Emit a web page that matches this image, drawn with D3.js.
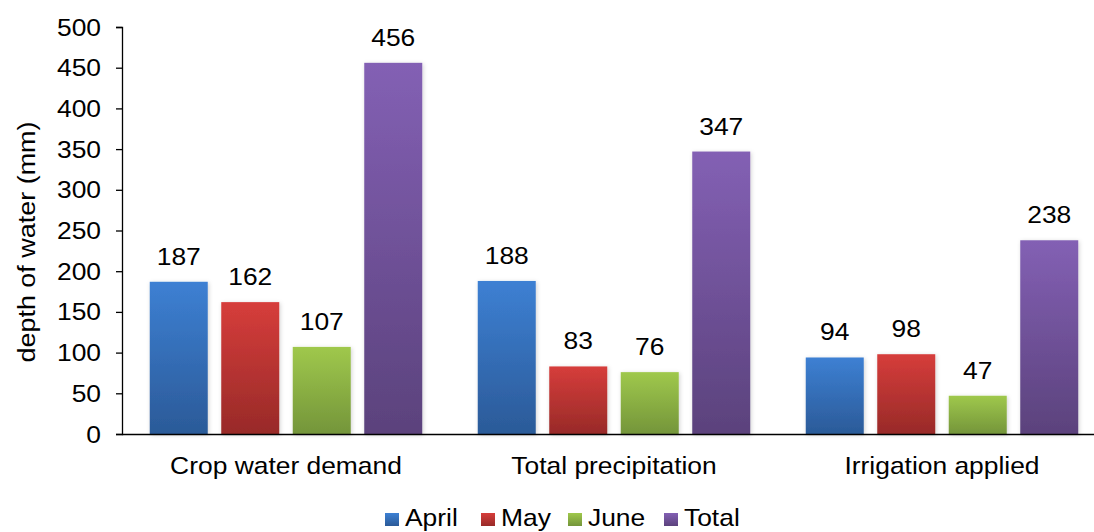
<!DOCTYPE html>
<html><head><meta charset="utf-8">
<script src="https://cdn.jsdelivr.net/npm/d3@7"></script>
<style>body{margin:0;background:#fff;font-family:"Liberation Sans",Arial,sans-serif;}</style>
</head><body><svg id="c" width="1094" height="532"></svg>
<script>
const categories = ["Crop water demand","Total precipitation","Irrigation applied"];
const seriesNames = ["April","May","June","Total"];
const april = [187,188,94];
const may = [162,83,98];
const june = [107,76,47];
const total = [456,347,238];
const yTicks = [0,50,100,150,200,250,300,350,400,450,500];
const colorsTop = ["#3d80d3","#d63d3b","#9fc84c","#8360b4"];
const colorsBot = ["#2b5a98","#982a28","#74953a","#5b427c"];

const values = [april,may,june,total];
const svg = d3.select("#c");
const x0 = d3.scaleBand().domain(categories).range([122,1106]).paddingInner(0).paddingOuter(0);
const y = d3.scaleLinear().domain([0,500]).range([434,27]);
const SX = 1.1, FS = 24;

function txt(x, yy, s, anchor, size, rot){
  const g = svg.append("g").attr("transform", `translate(${x},${yy})` + (rot ? ` rotate(${rot})` : "") + ` scale(${SX},1)`);
  g.append("text").attr("text-anchor", anchor).attr("font-size", size).attr("fill", "#000")
    .attr("font-family","Liberation Sans, Arial, sans-serif").text(s);
}

const defs = svg.append("defs");
seriesNames.forEach((s,i)=>{
  const g = defs.append("linearGradient").attr("id","g"+i).attr("x1",0).attr("x2",0).attr("y1",0).attr("y2",1);
  g.append("stop").attr("offset","0%").attr("stop-color",colorsTop[i]);
  g.append("stop").attr("offset","100%").attr("stop-color",colorsBot[i]);
});
const f = defs.append("filter").attr("id","sh").attr("x","-20%").attr("y","-10%").attr("width","140%").attr("height","120%");
f.append("feDropShadow").attr("dx",1).attr("dy",1).attr("stdDeviation",2).attr("flood-color","#000").attr("flood-opacity",0.18);

const barW = 58, step = 71.5;
categories.forEach((c,ci)=>{
  const center = x0(c)+x0.bandwidth()/2;
  seriesNames.forEach((s,si)=>{
    const v = values[si][ci];
    const xL = center - 2*step + si*step + (step-barW)/2;
    svg.append("rect").attr("x",xL).attr("y",y(v)).attr("width",barW).attr("height",y(0)-y(v))
      .attr("fill","url(#g"+si+")").attr("filter","url(#sh)");
    txt(xL+barW/2, y(v)-17, v, "middle", FS);
  });
});

// y axis
const ya = svg.append("g").attr("transform","translate(122,0)")
  .call(d3.axisLeft(y).tickValues(yTicks).tickSize(6).tickFormat(""));
ya.select(".domain").attr("stroke","#000").attr("stroke-width",1.3);
ya.selectAll(".tick line").attr("stroke","#000").attr("stroke-width",1.3);
yTicks.forEach(t=>txt(101, y(t)+8.5, t, "end", FS));

// x axis line
svg.append("line").attr("x1",122).attr("x2",1094).attr("y1",434.5).attr("y2",434.5).attr("stroke","#000").attr("stroke-width",1.5);

// category labels
categories.forEach(c=>txt(x0(c)+x0.bandwidth()/2, 474, c, "middle", FS));

// y title
txt(35, 242, "depth of water (mm)", "middle", 24.5, -90);

// legend
const legX = [385,481,568,664];
seriesNames.forEach((s,i)=>{
  svg.append("rect").attr("x",legX[i]).attr("y",513).attr("width",14).attr("height",13).attr("fill","url(#g"+i+")");
  txt(legX[i]+20, 526, s, "start", 24);
});
</script></body></html>
